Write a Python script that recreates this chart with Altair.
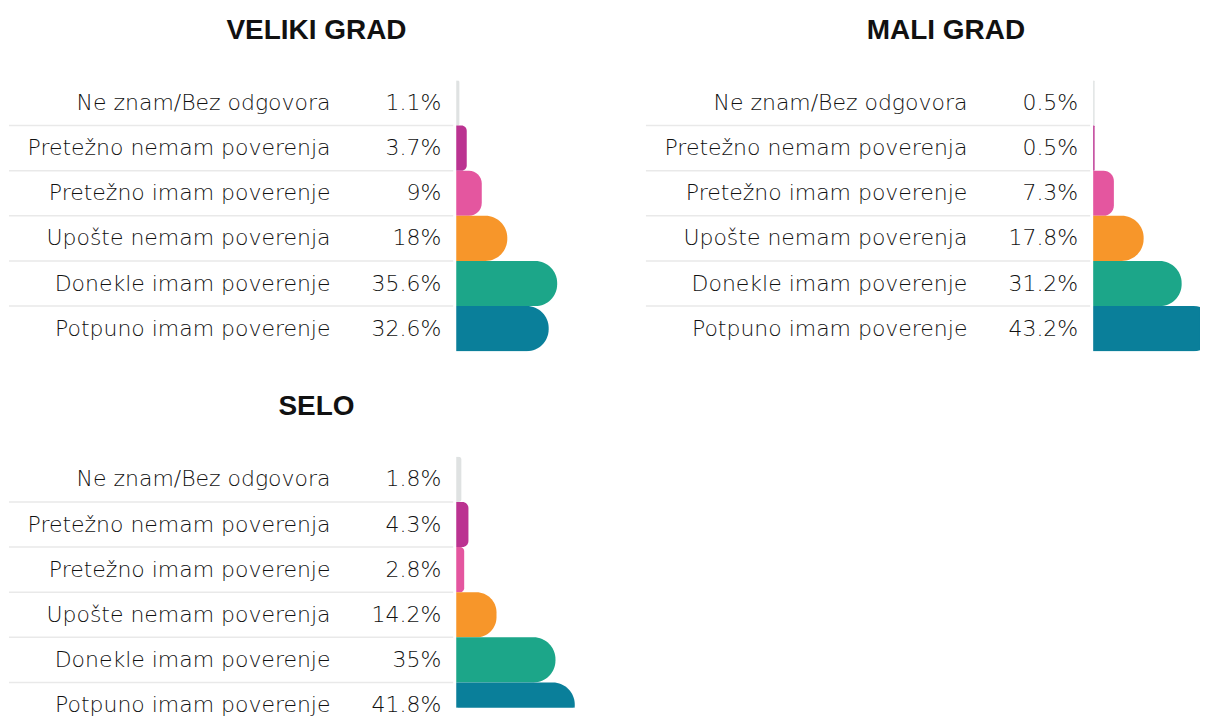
import altair as alt
import pandas as pd

categories = [
    "Ne znam/Bez odgovora",
    "Pretežno nemam poverenja",
    "Pretežno imam poverenje",
    "Upošte nemam poverenja",
    "Donekle imam poverenje",
    "Potpuno imam poverenje",
]
colors = ["#dfe2e2", "#bb3391", "#e4569f", "#f7962a", "#1ca689", "#0a7f9a"]

panel_titles = ["VELIKI GRAD", "MALI GRAD", "SELO"]
veliki_grad = [1.1, 3.7, 9, 18, 35.6, 32.6]
mali_grad = [0.5, 0.5, 7.3, 17.8, 31.2, 43.2]
selo = [1.8, 4.3, 2.8, 14.2, 35, 41.8]

PX_PER_PCT = 2.84
ZERO_PX = 448
ROW_H = 45.2

FONT = "DejaVu Sans"
TITLE_FONT = "Liberation Sans"


def panel(title, values, width, height=ROW_H * 6, title_dx=0):
    df = pd.DataFrame({
        "cat": categories,
        "value": values,
        "label": [f"{v:g}%" for v in values],
    })
    lo = -ZERO_PX / PX_PER_PCT
    hi = (width - ZERO_PX) / PX_PER_PCT
    xscale = alt.Scale(domain=[lo, hi], nice=False)
    yscale = alt.Scale(domain=categories, paddingInner=0, paddingOuter=0,
                       range=[0, ROW_H * 6])
    yenc = alt.Y("cat:N", sort=categories, axis=None, scale=yscale)
    colenc = alt.Color("cat:N", scale=alt.Scale(domain=categories, range=colors),
                       legend=None)
    base = alt.Chart(df).transform_calculate(
        rx0=str(lo),
        rx1=str(-3 / PX_PER_PCT),
        lx=str((322 - ZERO_PX) / PX_PER_PCT),
        vx=str((433 - ZERO_PX) / PX_PER_PCT),
    )

    rules = base.transform_filter(
        alt.datum.cat != categories[0]
    ).mark_rule(color="#e9e9e9", strokeWidth=1.5, yOffset=-ROW_H / 2).encode(
        x=alt.X("rx0:Q", scale=xscale, axis=None),
        x2="rx1:Q",
        y=yenc,
    )

    labels = base.mark_text(align="right", baseline="middle", font=FONT,
                            fontWeight=200, fontSize=22, color="#111111").encode(
        x=alt.X("lx:Q", scale=xscale, axis=None),
        y=yenc,
        text="cat:N",
    )
    vals = base.mark_text(align="right", baseline="middle", font=FONT,
                          fontWeight=200, fontSize=22, color="#111111").encode(
        x=alt.X("vx:Q", scale=xscale, axis=None),
        y=yenc,
        text="label:N",
    )
    outline = base.mark_bar(cornerRadiusEnd=22, stroke="white", strokeWidth=3,
                            clip=True).encode(
        x=alt.X("value:Q", scale=xscale, axis=None, stack=None),
        y=yenc,
        color=colenc,
    )
    bars = base.mark_bar(cornerRadiusEnd=22, clip=True).encode(
        x=alt.X("value:Q", scale=xscale, axis=None, stack=None),
        y=yenc,
        color=colenc,
    )
    return alt.layer(rules, labels, vals, outline, bars).properties(
        width=width,
        height=height,
        title=alt.TitleParams(title, font=TITLE_FONT, fontSize=28, fontWeight="bold",
                              color="#111111", anchor="middle", offset=36, dx=title_dx),
    )


p1 = panel(panel_titles[0], veliki_grad, 616)
p2 = panel(panel_titles[1], mali_grad, 555, title_dx=23)
p3 = panel(panel_titles[2], selo, 616, height=251)

chart = alt.vconcat(
    alt.hconcat(p1, p2, spacing=21),
    p3,
    spacing=41,
).properties(padding={"top": 8, "left": 0, "right": 0, "bottom": 0}).configure_view(stroke=None)

chart.save("out.html", embed_options={"renderer": "svg", "actions": False})
